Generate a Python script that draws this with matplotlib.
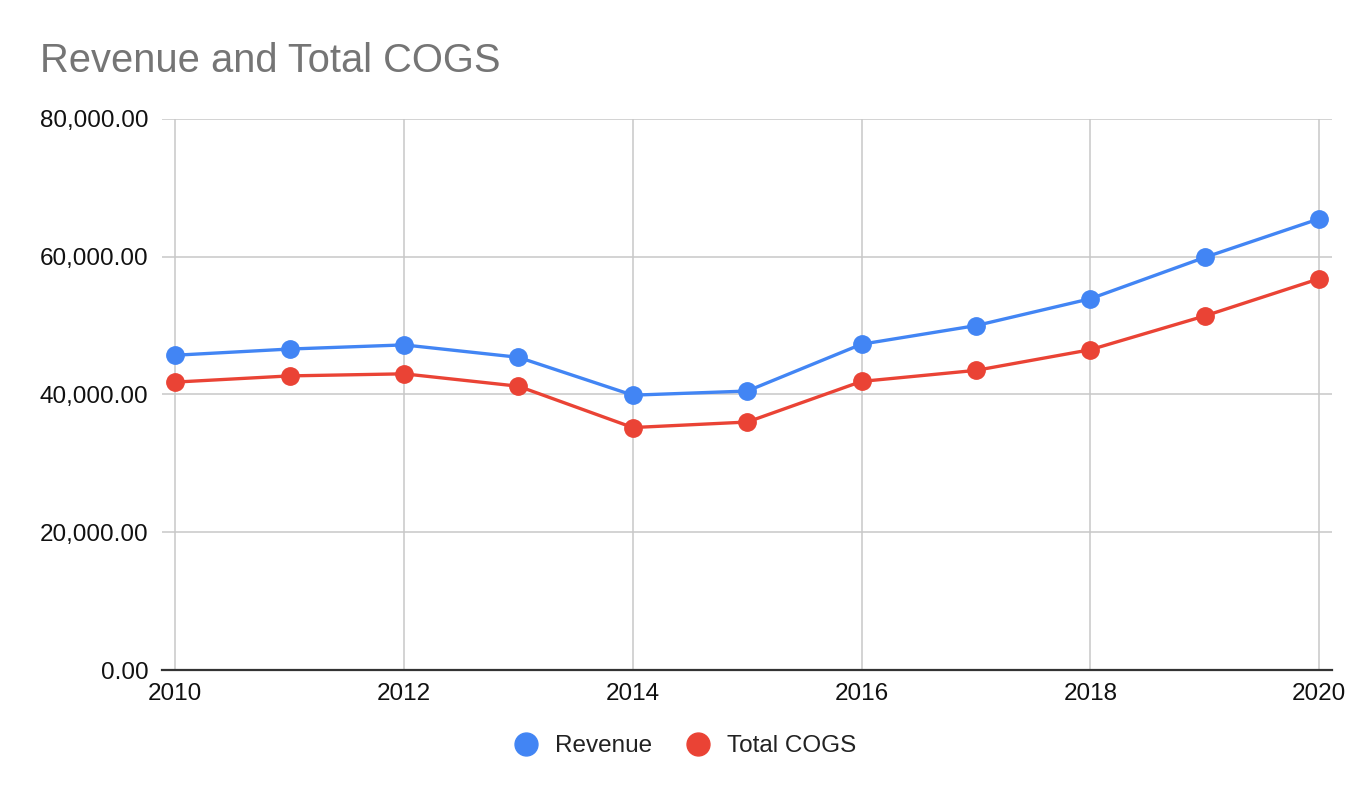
import matplotlib.pyplot as plt
from matplotlib.lines import Line2D
from matplotlib.ticker import FuncFormatter

years = [2010, 2011, 2012, 2013, 2014, 2015, 2016, 2017, 2018, 2019, 2020]
revenue = [45700, 46600, 47200, 45400, 39900, 40500, 47300, 50000, 53900, 59900, 65500]
total_cogs = [41800, 42700, 43000, 41200, 35200, 36000, 41900, 43500, 46500, 51400, 56800]
x_ticks = [2010, 2012, 2014, 2016, 2018, 2020]
y_ticks = [0, 20000, 40000, 60000, 80000]

blue = "#4285F4"
red = "#EA4335"

plt.rcParams['font.family'] = ['Liberation Sans', 'DejaVu Sans']

fig = plt.figure(figsize=(13.72, 7.98), dpi=100)
ax = fig.add_axes([0.1181, 0.1604, 0.8528, 0.6905])

ax.plot(years, revenue, color=blue, lw=2.4, marker='o', ms=12.5, zorder=3)
ax.plot(years, total_cogs, color=red, lw=2.4, marker='o', ms=12.5, zorder=3)

ax.set_xlim(2009.884, 2020.114)
ax.set_ylim(0, 80000)
ax.set_xticks(x_ticks)
ax.set_yticks(y_ticks)
ax.yaxis.set_major_formatter(FuncFormatter(lambda v, p: f"{v:,.2f}"))

ax.grid(True, color="#c8c8c8", lw=1.1)
ax.set_axisbelow(True)
for side in ['top', 'right', 'left']:
    ax.spines[side].set_visible(False)
ax.spines['bottom'].set_color("#333333")
ax.spines['bottom'].set_linewidth(1.6)
ax.spines['bottom'].set_zorder(2)
ax.tick_params(length=0, labelsize=17.5, colors="#111111")
ax.tick_params(axis='y', pad=10)
ax.tick_params(axis='x', pad=9)

fig.text(40 / 1372, 1 - 72 / 798, "Revenue and Total COGS", fontsize=28.7,
         color="#757575", ha='left', va='baseline')

handles = [
    Line2D([], [], color=blue, marker='o', ls='none', ms=16.5),
    Line2D([], [], color=red, marker='o', ls='none', ms=16.5),
]
fig.legend(handles, ["Revenue", "Total COGS"], loc='center',
           bbox_to_anchor=(0.4993, 1 - 746 / 798), ncol=2, frameon=False,
           fontsize=17.5, handlelength=1.0, handletextpad=0.7,
           columnspacing=1.4, labelcolor="#222222")

fig.savefig("out.png", dpi=100)
